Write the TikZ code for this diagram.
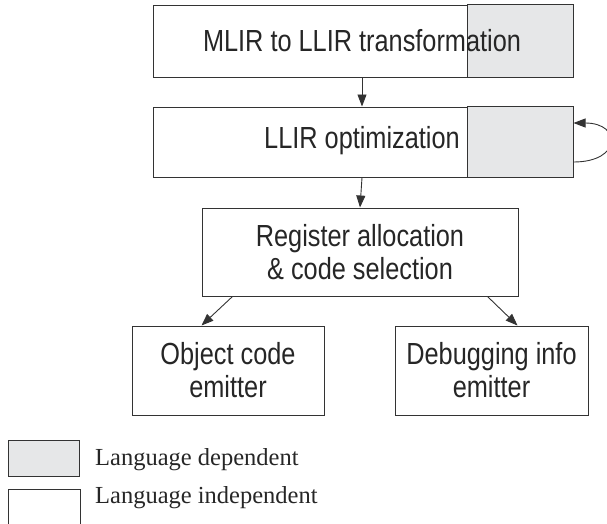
\documentclass[tikz,border=0pt]{standalone}
\usepackage{fontspec}
\setmainfont{Liberation Serif}
\newfontfamily\boxfont[FakeStretch=0.83]{Liberation Sans}
\usetikzlibrary{arrows.meta}
\definecolor{lgrey}{HTML}{E6E7E8}
\definecolor{lcol}{HTML}{333333}
\tikzset{
  blk/.style={draw=lcol, line width=1pt, fill=white, rectangle, inner sep=0pt},
  gpart/.style={draw=lcol, line width=1pt, fill=lgrey},
  btxt/.style={font=\boxfont\fontsize{30.5}{33}\selectfont, text=black!85, align=center, inner sep=0pt},
  arr/.style={draw=lcol, line width=0.9pt, -{Triangle[length=12pt,width=9pt]}},
  legtxt/.style={font=\fontsize{24.5}{28}\selectfont, text=black!85, anchor=base west, inner sep=0pt}
}
\begin{document}
\begin{tikzpicture}[x=1pt,y=-1pt]
\useasboundingbox (0,0) rectangle (607,523);
\begin{scope}
\clip (0,0) rectangle (607,523);
% box 1
\node[blk, minimum width=420pt, minimum height=72pt] (b1) at (363,41) {};
\draw[gpart] ([xshift=-106pt]b1.north east) rectangle (b1.south east);
\node[btxt] (t1) at (362,41) {MLIR to LLIR transformation};
% box 2
\node[blk, minimum width=420pt, minimum height=70pt] (b2) at (363,142) {};
\draw[gpart] ([xshift=-106pt]b2.north east) rectangle (b2.south east);
\node[btxt] (t2) at (362,141) {LLIR optimization};
% box 3
\node[blk, minimum width=316pt, minimum height=88pt] (b3) at (360,252) {};
\node[btxt] (t3) at (360,252) {Register allocation\\ \& code selection};
% box 4, 5
\node[blk, minimum width=192pt, minimum height=89pt] (b4) at (228,370.5) {};
\node[btxt] (t4) at (228,370.5) {Object code\\ emitter};
\node[blk, minimum width=193pt, minimum height=89pt] (b5) at (491.5,370.5) {};
\node[btxt] (t5) at (491.5,370.5) {Debugging info\\ emitter};
% arrows
\draw[arr] ([xshift=-1pt]b1.south) -- ([xshift=-1pt]b2.north);
\draw[arr] ([xshift=-1pt]b2.south) -- (b3.north);
\draw[arr] ([xshift=31pt]b3.south west) -- ([xshift=70pt]b4.north west);
\draw[arr] ([xshift=-31pt]b3.south east) -- ([xshift=123pt]b5.north west);
\draw[arr] ([yshift=-20pt]b2.east) .. controls (622,162) and (622,123) .. ([yshift=19pt]b2.east);
% legend
\node[gpart, minimum width=71pt, minimum height=36pt, inner sep=0pt] (lg) at (43.5,458) {};
\node[legtxt] (lgt) at (95,465) {Language dependent};
\node[blk, minimum width=72pt, minimum height=36pt] (lw) at (44,507) {};
\node[legtxt] (lwt) at (95,503) {Language independent};
\end{scope}
\end{tikzpicture}
\end{document}
